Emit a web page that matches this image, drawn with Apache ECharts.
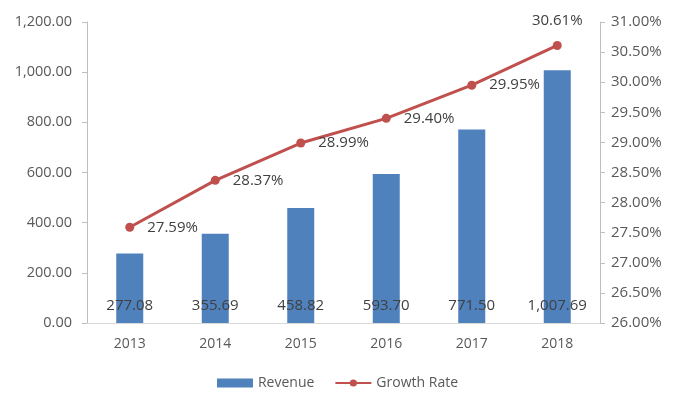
<!DOCTYPE html>
<html><head><meta charset="utf-8">
<script src="https://cdn.jsdelivr.net/npm/echarts@6/dist/echarts.min.js"></script>
<style>html,body{margin:0;padding:0;background:#fff}#c{width:675px;height:407px}</style>
</head><body><div id="c"></div>
<script>
const categories = ['2013','2014','2015','2016','2017','2018'];
const revenue = [277.08, 355.69, 458.82, 593.70, 771.50, 1007.69];
const growthRate = [27.59, 28.37, 28.99, 29.40, 29.95, 30.61];

const fmt2 = v => v.toLocaleString('en-US',{minimumFractionDigits:2,maximumFractionDigits:2});
const FONT = 'Open Sans';
const chart = echarts.init(document.getElementById('c'));
chart.setOption({
  animation:false,
  textStyle:{fontFamily:FONT},
  grid:{left:87,right:75,top:22,bottom:84},
  legend:{bottom:12,left:'center',itemGap:20,itemWidth:36,itemHeight:9,
    textStyle:{color:'#595959',fontSize:14,fontFamily:FONT},
    data:[{name:'Revenue',icon:'rect'},{name:'Growth Rate'}]},
  xAxis:{type:'category',data:categories,
    axisLine:{lineStyle:{color:'#d9d9d9'}},axisTick:{show:false},
    axisLabel:{color:'#595959',fontSize:14,margin:14}},
  yAxis:[
    {type:'value',min:0,max:1200,interval:200,
      axisLine:{show:true,lineStyle:{color:'#bfbfbf'}},
      axisTick:{show:true,length:5,lineStyle:{color:'#bfbfbf'}},
      splitLine:{show:false},
      axisLabel:{color:'#595959',fontSize:14.5,margin:15,formatter:v=>fmt2(v)}},
    {type:'value',min:26,max:31,interval:0.5,position:'right',
      axisLine:{show:true,lineStyle:{color:'#bfbfbf'}},
      axisTick:{show:true,length:5,lineStyle:{color:'#bfbfbf'}},
      splitLine:{show:false},
      axisLabel:{color:'#595959',fontSize:15,margin:11,formatter:v=>v.toFixed(2)+'%'}}
  ],
  series:[
    {name:'Revenue',type:'bar',data:revenue,barWidth:27,yAxisIndex:0,
      itemStyle:{color:'#4F81BD'},
      label:{show:true,position:'insideBottom',distance:10,color:'#404040',fontSize:15,
        formatter:p=>fmt2(p.value)}},
    {name:'Growth Rate',type:'line',yAxisIndex:1,
      data:growthRate.map((v,i)=>({value:v,label:{position:i===growthRate.length-1?'top':'right'}})),
      symbol:'circle',symbolSize:9,
      lineStyle:{color:'#C0504D',width:3},itemStyle:{color:'#C0504D'},
      label:{show:true,position:'right',distance:13,color:'#404040',fontSize:15,
        formatter:p=>p.value.toFixed(2)+'%'}}
  ]
});
</script></body></html>
